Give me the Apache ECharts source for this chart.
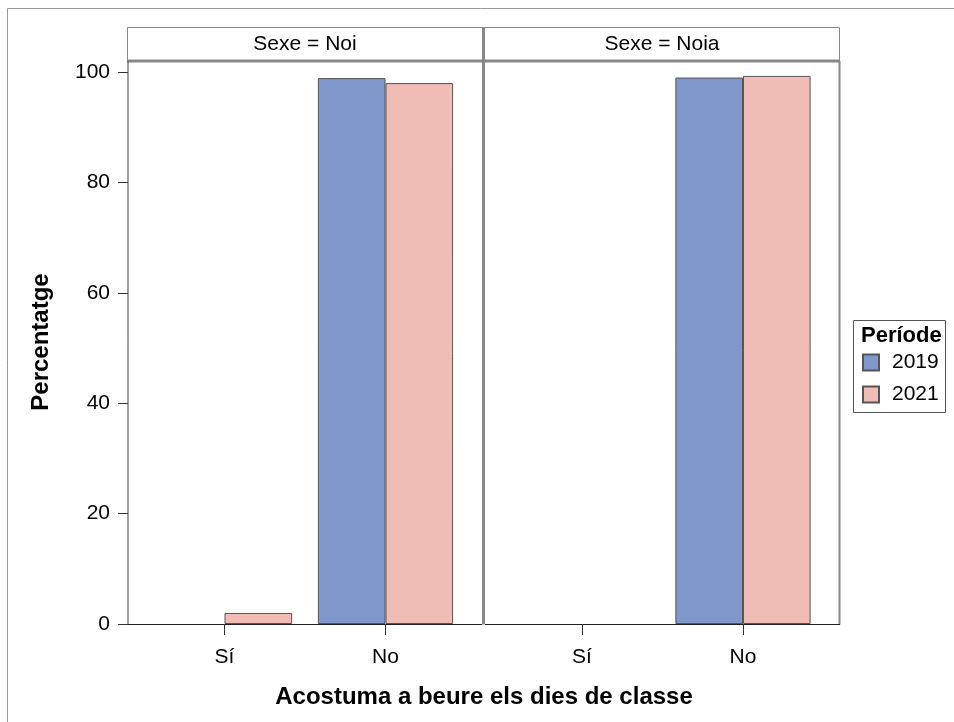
<!DOCTYPE html>
<html>
<head>
<meta charset="utf-8">
<script src="https://cdn.jsdelivr.net/npm/echarts@6/dist/echarts.min.js"></script>
<style>
  html, body { margin: 0; padding: 0; background: #fff; }
  #chart { width: 954px; height: 722px; }
</style>
</head>
<body>
<div id="chart"></div>
<script>
// categories and values
var categories = ['Sí', 'No']
var panels = ['Sexe = Noi', 'Sexe = Noia']
var years = ['2019', '2021']
var noi2019 = [null, 98.9]
var noi2021 = [2.0, 98.0]
var noia2019 = [null, 99.0]
var noia2021 = [null, 99.3]
var yTicks = [0, 20, 40, 60, 80, 100]

var colors = { '2019': '#7f97cb', '2021': '#efbdb6' }
var font = 'Liberation Sans, Arial, sans-serif'

var chart = echarts.init(document.getElementById('chart'))

function barSeries(name, data, idx) {
  return {
    name: name,
    type: 'bar',
    xAxisIndex: idx,
    yAxisIndex: idx,
    data: data,
    barGap: 0,
    barCategoryGap: '16%',
    itemStyle: { color: colors[name], borderColor: '#555', borderWidth: 1 },
    emphasis: { disabled: true }
  }
}

var gray = '#888'

chart.setOption({
  animation: false,
  textStyle: { fontFamily: font },
  grid: [
    { left: 144, width: 322, top: 61, height: 563 },
    { left: 501.5, width: 322, top: 61, height: 563 }
  ],
  xAxis: [0, 1].map(function (i) {
    return {
      type: 'category',
      gridIndex: i,
      data: categories,
      axisLine: { show: false },
      axisTick: { show: true, alignWithLabel: true, length: 11, lineStyle: { color: '#333' } },
      axisLabel: { fontSize: 21, color: '#000', margin: 23, fontFamily: font }
    }
  }),
  yAxis: [0, 1].map(function (i) {
    return {
      type: 'value',
      gridIndex: i,
      min: 0,
      max: 102,
      interval: 20,
      show: i === 0,
      offset: 16,
      splitLine: { show: false },
      axisLine: { show: false },
      axisTick: { show: true, length: 10, lineStyle: { color: '#333' },
        customValues: yTicks },
      axisLabel: { fontSize: 21, color: '#000', margin: 18, fontFamily: font,
        customValues: yTicks }
    }
  }),
  legend: {
    data: years,
    orient: 'vertical',
    left: 857,
    top: 347,
    padding: 5,
    icon: 'rect',
    itemWidth: 16,
    itemHeight: 16,
    itemGap: 11,
    selectedMode: false,
    textStyle: { fontSize: 21, lineHeight: 16, color: '#000', fontFamily: font, padding: [0, 0, 0, 8] }
  },
  series: [
    barSeries('2019', noi2019, 0),
    barSeries('2021', noi2021, 0),
    barSeries('2019', noia2019, 1),
    barSeries('2021', noia2021, 1)
  ],
  graphic: [
    // outer frame (top and left)
    { type: 'line', shape: { x1: 7.5, y1: 8.5, x2: 954, y2: 8.5 }, style: { stroke: '#999', lineWidth: 1 } },
    { type: 'line', shape: { x1: 7.5, y1: 8.5, x2: 7.5, y2: 722 }, style: { stroke: '#999', lineWidth: 1 } },
    // header strips
    { type: 'rect', shape: { x: 127.5, y: 27.5, width: 356, height: 33 }, style: { fill: '#fff', stroke: gray, lineWidth: 1 } },
    { type: 'rect', shape: { x: 484.5, y: 27.5, width: 355, height: 33 }, style: { fill: '#fff', stroke: gray, lineWidth: 1 } },
    { type: 'text', x: 305, y: 44, style: { text: panels[0], fill: '#000', font: '21px ' + font, textAlign: 'center', textVerticalAlign: 'middle' } },
    { type: 'text', x: 662, y: 44, style: { text: panels[1], fill: '#000', font: '21px ' + font, textAlign: 'center', textVerticalAlign: 'middle' } },
    // header bottom thick line
    { type: 'line', shape: { x1: 127, y1: 61, x2: 840, y2: 61 }, style: { stroke: gray, lineWidth: 3 } },
    // panel frames
    { type: 'line', shape: { x1: 128, y1: 61, x2: 128, y2: 624.5 }, style: { stroke: '#444', lineWidth: 1 } },
    { type: 'line', shape: { x1: 483.5, y1: 27, x2: 483.5, y2: 624.5 }, style: { stroke: gray, lineWidth: 3 } },
    { type: 'line', shape: { x1: 839.5, y1: 61, x2: 839.5, y2: 624.5 }, style: { stroke: gray, lineWidth: 2 } },
    // bottom axis lines
    { type: 'line', shape: { x1: 128, y1: 624.5, x2: 482, y2: 624.5 }, style: { stroke: '#222', lineWidth: 1 } },
    { type: 'line', shape: { x1: 485, y1: 624.5, x2: 840, y2: 624.5 }, style: { stroke: '#222', lineWidth: 1 } },
    // axis titles
    { type: 'text', x: 484, y: 697, style: { text: 'Acostuma a beure els dies de classe', font: 'bold 24px ' + font, fill: '#000', textAlign: 'center', textVerticalAlign: 'middle' } },
    { type: 'text', x: 41, y: 342, rotation: Math.PI / 2, style: { text: 'Percentatge', font: 'bold 24px ' + font, fill: '#000', textAlign: 'center', textVerticalAlign: 'middle' } },
    // legend box and title
    { type: 'rect', shape: { x: 853.5, y: 320.5, width: 92, height: 92 }, style: { fill: 'none', stroke: '#555', lineWidth: 1 } },
    { type: 'text', x: 861, y: 336, style: { text: 'Període', font: 'bold 22px ' + font, fill: '#000', textAlign: 'left', textVerticalAlign: 'middle' } }
  ]
})
</script>
</body>
</html>
